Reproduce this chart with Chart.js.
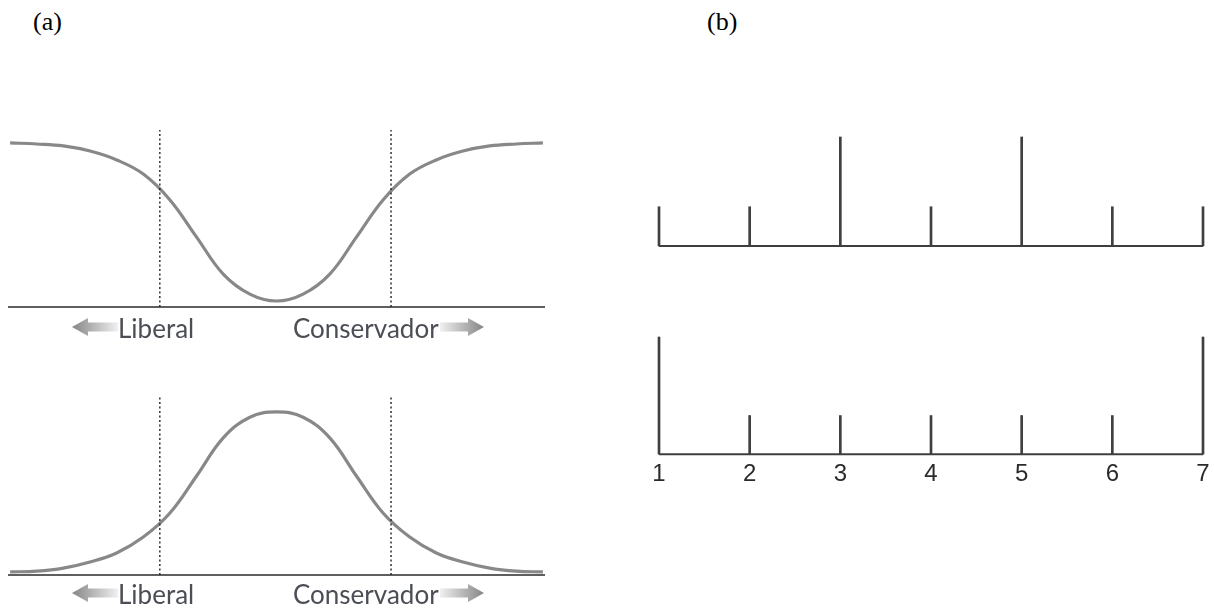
<!DOCTYPE html>
<html>
<head>
<meta charset="utf-8">
<script src="https://cdn.jsdelivr.net/npm/chart.js@4.4.1/dist/chart.umd.min.js"></script>
<style>
  html, body { margin: 0; padding: 0; background: #fff; }
  #page { position: relative; width: 1214px; height: 608px; overflow: hidden; background: #fff; }
  canvas { position: absolute; }
  .panel { position: absolute; font-family: "Liberation Serif", "Times New Roman", serif; font-size: 26px; color: #000; line-height: 1; }
  .lab { position: absolute; font-family: Lato, "Open Sans", sans-serif; font-size: 26px; color: #4b4f55; line-height: 1; white-space: nowrap; }
  svg.arrow { position: absolute; }
</style>
</head>
<body>
<div id="page">
  <div class="panel" style="left:33px; top:9px;">(a)</div>
  <div class="panel" style="left:707px; top:9px;">(b)</div>

  <canvas id="a1" width="560" height="200" style="left:0px; top:120px;"></canvas>
  <canvas id="a2" width="560" height="200" style="left:0px; top:385px;"></canvas>
  <canvas id="b1" width="574" height="150" style="left:640px; top:110px;"></canvas>
  <canvas id="b2" width="574" height="180" style="left:640px; top:320px;"></canvas>

  <svg class="arrow" style="left:72px; top:317px;" width="46" height="20"><defs><linearGradient id="gl1" x1="0" x2="1" y1="0" y2="0"><stop offset="0" stop-color="#858585"/><stop offset="1" stop-color="#f0f0f0"/></linearGradient></defs><polygon points="0,10 16,1 16,5.5 46,5.5 46,14.5 16,14.5 16,19" fill="url(#gl1)"/></svg>
  <div class="lab" style="left:118px; top:315px;">Liberal</div>
  <div class="lab" style="left:293px; top:315px;">Conservador</div>
  <svg class="arrow" style="left:440px; top:317px;" width="44" height="20"><defs><linearGradient id="gr1" x1="0" x2="1" y1="0" y2="0"><stop offset="0" stop-color="#f0f0f0"/><stop offset="1" stop-color="#858585"/></linearGradient></defs><polygon points="44,10 28,1 28,5.5 0,5.5 0,14.5 28,14.5 28,19" fill="url(#gr1)"/></svg>

  <svg class="arrow" style="left:72px; top:583px;" width="46" height="20"><defs><linearGradient id="gl2" x1="0" x2="1" y1="0" y2="0"><stop offset="0" stop-color="#858585"/><stop offset="1" stop-color="#f0f0f0"/></linearGradient></defs><polygon points="0,10 16,1 16,5.5 46,5.5 46,14.5 16,14.5 16,19" fill="url(#gl2)"/></svg>
  <div class="lab" style="left:118px; top:581px;">Liberal</div>
  <div class="lab" style="left:293px; top:581px;">Conservador</div>
  <svg class="arrow" style="left:440px; top:583px;" width="44" height="20"><defs><linearGradient id="gr2" x1="0" x2="1" y1="0" y2="0"><stop offset="0" stop-color="#f0f0f0"/><stop offset="1" stop-color="#858585"/></linearGradient></defs><polygon points="44,10 28,1 28,5.5 0,5.5 0,14.5 28,14.5 28,19" fill="url(#gr2)"/></svg>
</div>

<script>
// ---- Data ----
// Panel (a): ideological position (0 = most liberal, 100 = most conservative)
const positions = [0, 5, 10, 15, 20, 25, 30, 35, 40, 45, 50, 55, 60, 65, 70, 75, 80, 85, 90, 95, 100];
// Top: U-shaped (polarised) distribution, relative height
const polarisedCurve = [0.927, 0.921, 0.910, 0.881, 0.831, 0.751, 0.605, 0.395, 0.186, 0.073, 0.034, 0.073, 0.186, 0.395, 0.605, 0.751, 0.831, 0.881, 0.910, 0.921, 0.927];
// Bottom: bell-shaped (centrist) distribution, relative height
const bellCurve = [0.017, 0.022, 0.039, 0.073, 0.124, 0.213, 0.348, 0.556, 0.770, 0.886, 0.916, 0.886, 0.770, 0.556, 0.348, 0.213, 0.124, 0.073, 0.039, 0.022, 0.017];
// Dotted cut-off lines
const cutoffs = [28.1, 71.5];

// Panel (b): 7-point scale
const scalePoints = [1, 2, 3, 4, 5, 6, 7];
const scaleLabels = ['1', '2', '3', '4', '5', '6', '7'];
const topTickHeights = [0.36, 0.36, 1, 0.36, 1, 0.36, 0.36];
const bottomTickHeights = [1, 0.33, 0.33, 0.33, 0.33, 0.33, 1];

// ---- Helpers ----
const CURVE_COLOR = '#888888';
const AXIS_COLOR = '#2a2a2a';
const TICK_COLOR = '#3f3f3f';

function curveChart(id, values, padding) {
  const pts = positions.map((x, i) => ({ x: x, y: values[i] }));
  const datasets = [
    { data: [{ x: -0.4, y: 0 }, { x: 100.4, y: 0 }], borderColor: AXIS_COLOR, borderWidth: 1.5, pointRadius: 0, clip: false },
  ];
  cutoffs.forEach(c => datasets.push({
    data: [{ x: c, y: 0 }, { x: c, y: 1 }], borderColor: '#222', borderWidth: 1.4, borderDash: [2, 2.5], pointRadius: 0, clip: false
  }));
  datasets.push({ data: pts, borderColor: CURVE_COLOR, borderWidth: 3.2, pointRadius: 0, tension: 0.4, clip: false });
  return new Chart(document.getElementById(id), {
    type: 'line',
    data: { datasets: datasets },
    options: {
      responsive: false, animation: false, devicePixelRatio: 1,
      layout: { padding: padding },
      plugins: { legend: { display: false }, tooltip: { enabled: false } },
      scales: {
        x: { type: 'linear', min: -0.4, max: 100.4, display: false },
        y: { type: 'linear', min: 0, max: 1, display: false }
      }
    }
  });
}

curveChart('a1', polarisedCurve, { left: 8, right: 15, top: 10, bottom: 13 });
curveChart('a2', bellCurve, { left: 8, right: 15, top: 12, bottom: 10 });

function scaleChart(id, heights, padding, showLabels) {
  return new Chart(document.getElementById(id), {
    type: 'bar',
    data: {
      datasets: [
        { type: 'bar', data: scalePoints.map((x, i) => ({ x: x, y: heights[i] })), backgroundColor: TICK_COLOR, barThickness: 2, clip: false },
        { type: 'line', data: [{ x: 1, y: 0 }, { x: 7, y: 0 }], borderColor: TICK_COLOR, borderWidth: 2, pointRadius: 0, clip: false }
      ]
    },
    options: {
      responsive: false, animation: false, devicePixelRatio: 1,
      layout: { padding: padding },
      plugins: { legend: { display: false }, tooltip: { enabled: false } },
      scales: {
        x: {
          type: 'linear', min: 1, max: 7, offset: false, display: showLabels,
          grid: { display: false, drawTicks: false, offset: false },
          border: { display: false },
          afterFit: (s) => { s.paddingLeft = 0; s.paddingRight = 0; },
          ticks: {
            stepSize: 1, padding: 6, color: '#2b2b2b',
            font: { family: 'Liberation Sans, Arial, sans-serif', size: 24 },
            callback: (v) => scaleLabels[scalePoints.indexOf(v)] ?? ''
          }
        },
        y: { type: 'linear', min: 0, max: 1, display: false }
      }
    }
  });
}

scaleChart('b1', topTickHeights, { left: 19, right: 11, top: 27, bottom: 14 }, false);
scaleChart('b2', bottomTickHeights, { left: 19, right: 11, top: 17, bottom: 5 }, true);
</script>
</body>
</html>
